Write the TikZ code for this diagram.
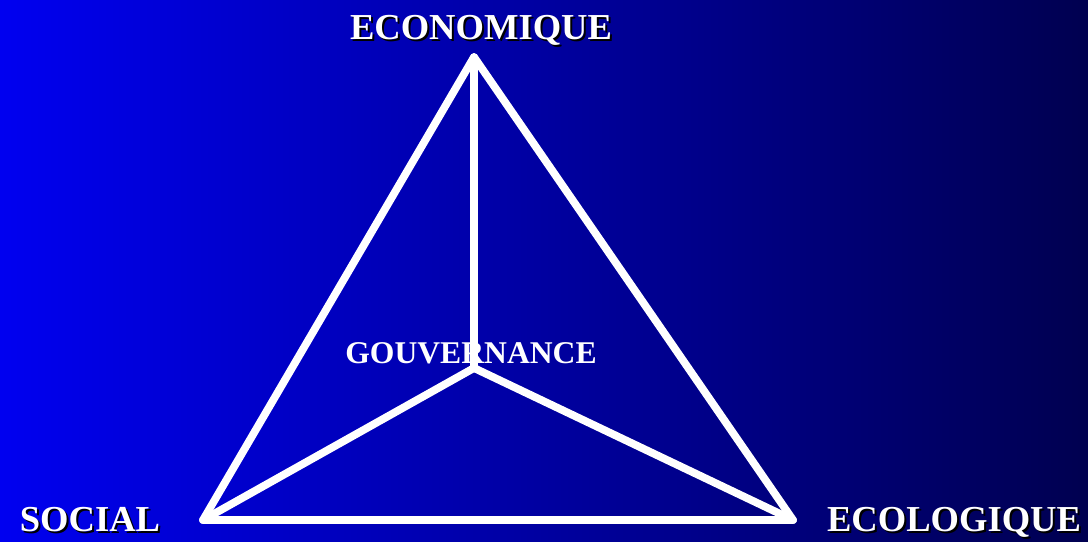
\documentclass[tikz,border=0pt]{standalone}
\usepackage{fontspec}
\setmainfont{Liberation Serif}
\usetikzlibrary{positioning}

\definecolor{bgleft}{RGB}{0,0,240}
\definecolor{bgmid}{RGB}{0,0,180}
\definecolor{bgright}{RGB}{0,0,80}

\tikzset{
    pole/.style={font=\fontsize{26}{26}\selectfont\bfseries, text=white, anchor=base, inner sep=0pt},
    poleshadow/.style={pole, text=black},
    centre/.style={font=\fontsize{22.5}{22.5}\selectfont\bfseries, text=white, anchor=base, inner sep=0pt},
    edge/.style={draw=white, line width=5.5pt, line join=round, line cap=round}
}

\begin{document}
\begin{tikzpicture}
    % background
    \shade[left color=bgleft, middle color=bgmid, right color=bgright] (0,0) rectangle (27.2,13.525);
    \useasboundingbox (0,0) rectangle (27.2,13.525);

    % corners of the triangle
    \coordinate (top) at (11.85,12.1);
    \coordinate (left) at (5.075,0.525);
    \coordinate (right) at (19.825,0.525);
    \coordinate (mid) at (11.85,4.325);

    % labels
    \node[poleshadow] (eco-s) at (12.075,12.475) {ECONOMIQUE};
    \node[pole] (eco) at (12.025,12.525) {ECONOMIQUE};
    \node[poleshadow] (soc-s) at (2.3,0.2) {SOCIAL};
    \node[pole] (soc) at (2.25,0.25) {SOCIAL};
    \node[poleshadow] (ecol-s) at (23.9,0.2) {ECOLOGIQUE};
    \node[pole] (ecol) at (23.85,0.25) {ECOLOGIQUE};
    \node[centre] (gouv) at (11.775,4.45) {GOUVERNANCE};

    % triangle and spokes
    \draw[edge] (top) -- (right) -- (left) -- cycle;
    \draw[edge] (mid) -- (top);
    \draw[edge] (mid) -- (left);
    \draw[edge] (mid) -- (right);
\end{tikzpicture}
\end{document}
